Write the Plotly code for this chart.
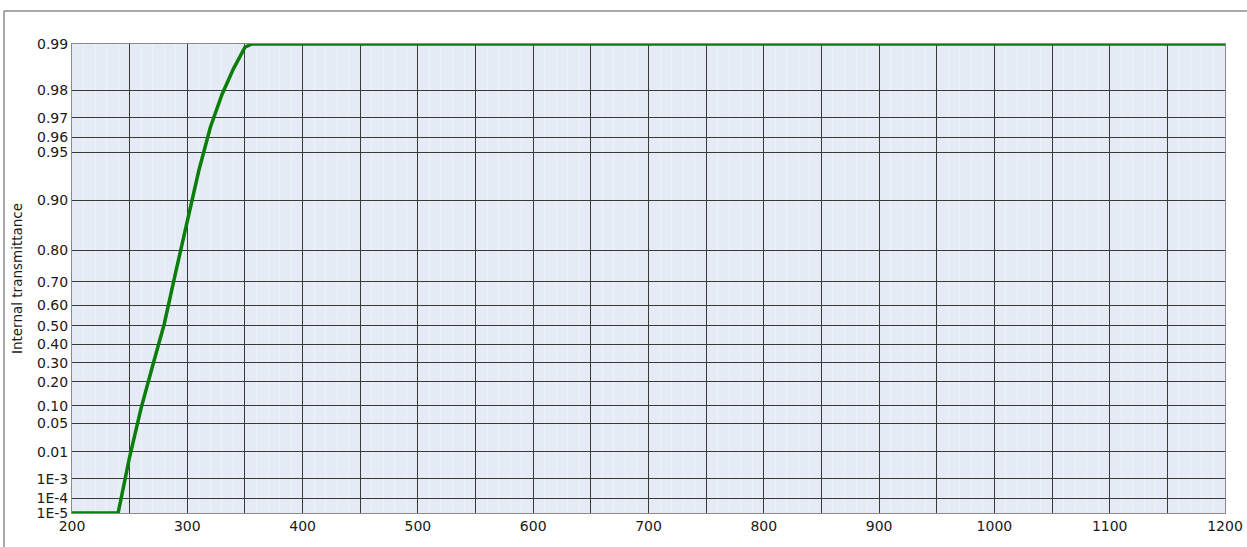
import numpy as np
import plotly.graph_objects as go

# Data
wavelength = [200, 240, 250, 260, 270, 280, 290, 300, 310, 320, 330, 340, 350, 356, 1200]
transmittance = [1e-5, 1e-5, 0.0071, 0.093, 0.285, 0.51, 0.735, 0.868, 0.935, 0.9655,
                 0.9787, 0.9855, 0.9895, 0.99, 0.99]

y_tick_values = [0.99, 0.98, 0.97, 0.96, 0.95, 0.90, 0.80, 0.70, 0.60, 0.50, 0.40,
                 0.30, 0.20, 0.10, 0.05, 0.01, 1e-3, 1e-4, 1e-5]
y_tick_labels = ["0.99", "0.98", "0.97", "0.96", "0.95", "0.90", "0.80", "0.70", "0.60",
                 "0.50", "0.40", "0.30", "0.20", "0.10", "0.05", "0.01", "1E-3", "1E-4", "1E-5"]
x_tick_values = [200, 250, 300, 350, 400, 450, 500, 550, 600, 650, 700, 750, 800, 850,
                 900, 950, 1000, 1050, 1100, 1150, 1200]
x_tick_labels = [str(v) if v % 100 == 0 else "" for v in x_tick_values]


def tscale(t):
    t = np.asarray(t, dtype=float)
    return -np.log10(-np.log(t))


W, H = 1247, 547
ml, mr, mt, mb = 72, 22, 44, 34
pw, ph = W - ml - mr, H - mt - mb

fig = go.Figure()
fig.add_trace(go.Scatter(
    x=wavelength, y=tscale(transmittance), mode="lines",
    line=dict(color="#0a7d0a", width=3.5), hoverinfo="skip", showlegend=False,
))

grid_col = "#3a3a3a"
fig.update_layout(
    width=W, height=H,
    margin=dict(l=ml, r=mr, t=mt, b=mb, autoexpand=False),
    paper_bgcolor="white", plot_bgcolor="#e5ebf5",
    font=dict(family="DejaVu Sans, Verdana, sans-serif", size=14, color="#1a1a1a"),
    xaxis=dict(
        range=[200, 1200], tickmode="array", tickvals=x_tick_values, ticktext=x_tick_labels,
        showgrid=True, gridcolor=grid_col, gridwidth=1, zeroline=False,
        showline=True, linecolor="#8a8a8a", linewidth=1, mirror=True,
        ticks="", ticklen=0, automargin=False,
        minor=dict(dtick=10, tick0=200, showgrid=True, gridcolor="rgba(255,255,255,0.3)", gridwidth=1),
    ),
    yaxis=dict(
        range=[float(tscale(1e-5)), float(tscale(0.99))], tickmode="array",
        tickvals=tscale(y_tick_values).tolist(), ticktext=y_tick_labels,
        showgrid=True, gridcolor=grid_col, gridwidth=1, zeroline=False,
        showline=True, linecolor="#8a8a8a", linewidth=1, mirror=True,
        ticks="", ticklen=0, automargin=False,
        title=dict(text="Internal transmittance", font=dict(size=13.5), standoff=10),
    ),
)

# outer frame (left and top edges of the surrounding box)
x_frame = (4 - ml) / pw
y_frame = 1 + (mt - 11) / ph
fig.add_shape(type="line", xref="paper", yref="paper", x0=x_frame, x1=x_frame,
              y0=y_frame, y1=-0.2, line=dict(color="#555555", width=1), layer="above")
fig.add_shape(type="line", xref="paper", yref="paper", x0=x_frame, x1=1.05,
              y0=y_frame, y1=y_frame, line=dict(color="#555555", width=1), layer="above")

fig.write_html("out.html")
